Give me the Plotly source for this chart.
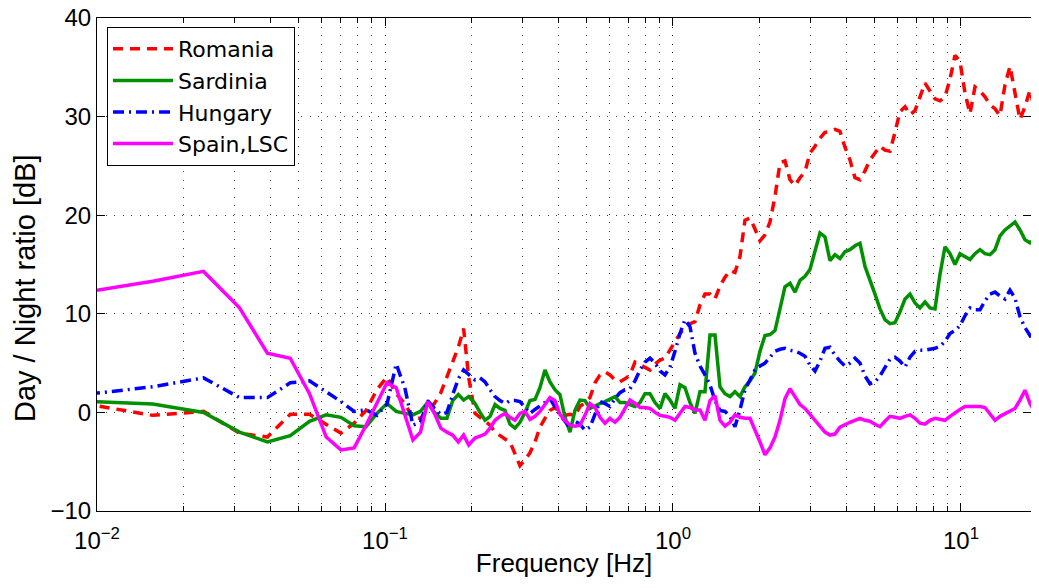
import plotly.graph_objects as go

# Frequencies [Hz]: low band on a 1/128 Hz grid, then a denser log-spaced band
FREQ_LOW = [0.0078125, 0.015625, 0.0234375, 0.03125, 0.0390625, 0.046875, 0.0546875,
            0.0625, 0.0703125, 0.078125, 0.0859375, 0.09375, 0.1015625, 0.109375,
            0.1171875, 0.125, 0.1328125, 0.140625, 0.1484375, 0.15625, 0.1640625,
            0.171875, 0.1796875, 0.1875, 0.1953125]
FREQ_HIGH = [0.2054, 0.2138, 0.2225, 0.2316, 0.2410, 0.2508, 0.2610, 0.2716, 0.2827, 0.2942,
             0.3062, 0.3187, 0.3317, 0.3452, 0.3593, 0.3739, 0.3892, 0.4050, 0.4217, 0.4388,
             0.4567, 0.4754, 0.4947, 0.5149, 0.5359, 0.5578, 0.5805, 0.6041, 0.6288, 0.6546,
             0.6813, 0.7091, 0.7380, 0.7680, 0.7993, 0.8320, 0.8660, 0.9013, 0.9380, 0.9763,
             1.0161, 1.0575, 1.1007, 1.1456, 1.1923, 1.2410, 1.2915, 1.3442, 1.3990, 1.4561,
             1.5155, 1.5773, 1.6416, 1.7085, 1.7783, 1.8508, 1.9262, 2.0048, 2.0865, 2.1716,
             2.2603, 2.3524, 2.4484, 2.5483, 2.6522, 2.7606, 2.8728, 2.9900, 3.1120, 3.2389,
             3.3711, 3.5084, 3.6517, 3.8007, 3.9557, 4.1172, 4.2850, 4.4598, 4.6416, 4.8306,
             5.0280, 5.2335, 5.4462, 5.6688, 5.8998, 6.1405, 6.3915, 6.6513, 6.9231, 7.2044,
             7.4989, 7.8054, 8.1225, 8.4545, 8.7996, 9.1586, 9.5329, 9.9197, 10.325, 10.747,
             11.184, 11.641, 12.115, 12.610, 13.125, 13.658, 14.216, 14.794, 15.399, 16.029,
             16.681, 17.362, 18.068, 18.66]
FREQ = FREQ_LOW + FREQ_HIGH

ROMANIA = [1.2, -0.3, 0.1, -2.1, -2.5, -0.2, -0.2, -1.2, -2.1, -1.1, 0.2, 2.3, 3.6, 1.9,
           0.9, -0.6, -0.6, 0.2, 0.9, 2.0, 3.6, 5.0, 6.6, 8.5, 3.5,
           -0.1, -0.5, -1.0, -1.3, -2.0, -2.4, -2.7, -3.0, -4.3, -5.4,
           -4.8, -4.1, -3.0, -1.5, -0.6, 0.2, 0.5, 0.0, -0.3, -0.2,
           -0.3, 0.6, 1.0, 1.5, 3.0, 3.8, 4.1, 3.8, 3.3, 3.1,
           3.4, 3.8, 5.1, 4.8, 4.5, 4.3, 4.9, 5.3, 5.5, 6.3,
           7.2, 8.0, 8.6, 9.0, 9.2, 10.9, 12.0, 12.0, 11.5, 12.8,
           13.7, 14.4, 14.2, 15.8, 19.5, 19.7, 18.6, 17.4, 18.0, 19.3,
           21.9, 25.3, 25.5, 23.6, 23.0, 23.8, 24.4, 26.3, 27.0, 27.8,
           28.4, 28.5, 28.7, 28.5, 26.9, 25.6, 23.8, 23.6, 24.5, 25.6,
           26.3, 27.0, 26.6, 26.5, 28.4, 30.5, 31.0, 30.2, 30.6, 32.0,
           33.4, 32.6, 31.8, 31.6, 32.0, 33.8, 36.2, 35.6, 32.4, 30.3,
           33.0, 32.6, 32.0, 31.2, 30.8, 30.1, 33.2, 35.1, 32.3, 29.7,
           31.0, 32.7, 30.5, 28.0]

SARDINIA = [1.2, 0.85, 0.0, -2.0, -3.0, -2.35, -0.9, -0.25, -0.5, -1.35, -1.45, -0.1, 0.9,
            0.1, -0.1, -0.25, 0.1, 1.0, 0.0, -0.6, -0.6, 1.2, 1.8, 1.25, 1.6,
            0.9, 0.0, -0.8, -0.4, 0.8, 0.4, 0.2, -1.2, -1.6, -1.0,
            0.0, 1.2, 1.3, 2.5, 4.3, 3.1, 2.3, 1.8, -0.5, -2.0,
            0.2, 1.25, 1.2, 0.4, 0.7, 0.9, 1.1, 1.4, 1.6, 1.0,
            1.0, 0.8, 0.6, 1.0, 1.9, 1.9, 1.0, 0.4, 1.9, 1.25,
            0.4, 2.8, 2.5, 1.0, -0.1, 2.1, 2.1, 7.85, 7.85, 2.6,
            1.9, 1.6, 2.1, 1.6, 2.6, 3.2, 4.0, 6.2, 7.8, 7.9,
            8.3, 10.5, 12.75, 13.1, 12.2, 13.4, 13.8, 14.5, 16.3, 18.2,
            17.8, 15.4, 16.0, 15.6, 16.3, 16.5, 16.9, 17.15, 14.8, 13.5,
            12.0, 10.5, 9.4, 9.0, 9.1, 10.2, 11.5, 12.0, 11.1, 10.6,
            11.2, 10.6, 10.5, 14.0, 16.8, 16.1, 15.0, 16.1, 15.8, 15.5,
            16.1, 16.5, 16.1, 16.0, 16.5, 17.9, 18.5, 18.9, 19.3, 18.5,
            17.5, 17.2, 17.6, 18.2]

HUNGARY = [1.6, 2.6, 3.5, 1.5, 1.5, 3.0, 3.2, 2.1, 1.1, 0.1, 0.25, -0.3, 0.8,
           4.9, 2.5, -1.3, -1.0, 1.2, 0.4, -0.2, 0.0, 1.8, 3.4, 4.3, 3.8,
           3.3, 3.5, 3.1, 2.3, 1.6, 1.2, 0.9, 1.2, 1.2, 1.1,
           0.5, -0.1, 0.3, 0.6, 1.0, 1.4, 0.5, -0.25, -0.9, -1.6,
           -0.9, -1.2, -1.8, -1.5, -0.2, 1.1, 0.9, 0.6, 1.4, 2.0,
           2.3, 2.4, 3.2, 4.3, 5.1, 5.5, 5.0, 4.2, 3.8, 4.6,
           6.2, 8.0, 9.4, 8.7, 6.0, 4.7, 3.8, 2.8, 1.2, 0.2,
           0.1, -0.4, -1.45, 0.25, 2.3, 3.4, 4.3, 4.7, 5.0, 5.6,
           6.2, 6.4, 6.5, 6.3, 6.2, 6.0, 5.7, 4.8, 4.2, 5.2,
           6.5, 6.6, 5.8, 5.2, 4.7, 5.0, 5.5, 5.0, 3.7, 2.9,
           3.1, 3.7, 4.5, 5.4, 5.6, 5.2, 4.6, 5.6, 6.2, 6.3,
           6.3, 6.4, 6.5, 6.7, 7.2, 8.0, 8.3, 8.8, 9.8, 10.6,
           10.4, 10.4, 11.3, 12.0, 12.2, 11.8, 11.5, 12.4, 11.6, 9.7,
           8.6, 7.8, 6.8, 6.6]

SPAIN_LSC = [11.9, 13.3, 14.3, 10.6, 6.0, 5.5, 1.9, -2.5, -3.8, -3.6, -1.3, 0.95, 3.0,
             2.5, -0.1, -2.8, -2.0, 1.1, -0.1, -1.6, -2.0, -2.3, -3.0, -2.3, -3.3,
             -2.6, -2.4, -2.2, -1.6, -0.8, -0.4, -0.1, -0.5, -0.8, -0.1,
             0.1, -0.7, -0.4, 0.1, 0.8, 1.5, 1.2, -0.2, -0.8, -1.3,
             -1.4, -1.3, -0.3, 0.9, 0.5, -0.5, -1.1, -0.6, -1.0, -0.5,
             0.4, 1.25, 0.9, 0.5, 0.5, 0.4, 0.0, -0.3, -0.4, -0.5,
             -0.8, -0.1, 0.6, 0.5, 0.25, 0.25, -0.8, 1.2, 1.7, -0.8,
             -1.4, -1.0, -0.25, -0.5, -0.6, -0.6, -1.7, -3.0, -4.3, -3.6,
             -2.5, -0.8, 1.4, 2.4, 1.6, 0.8, 0.4, -0.2, -0.9, -1.5,
             -2.0, -2.3, -2.2, -1.5, -1.2, -1.0, -0.8, -0.6, -0.8, -0.9,
             -1.2, -1.45, -0.9, -0.4, -0.5, -0.6, -0.4, -0.25, -0.6, -1.1,
             -1.2, -0.8, -0.6, -0.7, -0.8, -0.4, 0.0, 0.3, 0.6, 0.6,
             0.6, 0.6, 0.5, -0.2, -0.8, -0.4, -0.1, 0.1, 0.4, 1.25,
             2.25, 0.9, 0.1, 1.1]

SERIES = [
    ("Romania", ROMANIA, "#ff0000", "10px,7px"),
    ("Sardinia", SARDINIA, "#009000", "solid"),
    ("Hungary", HUNGARY, "#0000ff", "11px,5px,2px,5px"),
    ("Spain,LSC", SPAIN_LSC, "#ff00ff", "solid"),
]

X_TICKVALS = [0.01, 0.1, 1, 10]
X_TICKTEXT = ["10<sup>\u22122</sup>", "10<sup>\u22121</sup>", "10<sup>0</sup>", "10<sup>1</sup>"]
Y_TICKVALS = [-10, 0, 10, 20, 30, 40]
Y_TICKTEXT = ["\u221210", "0", "10", "20", "30", "40"]
X_TITLE = "Frequency [Hz]"
Y_TITLE = "Day / Night ratio [dB]"

fig = go.Figure()
for name, vals, color, dash in SERIES:
    fig.add_trace(go.Scatter(x=FREQ, y=vals, mode="lines", name=name,
                             line=dict(color=color, width=3.5, dash=dash)))

FONT = "Liberation Sans, Arial, sans-serif"
GRIDCOL = "rgba(0,0,0,0.75)"
GRIDDASH = "1px,7.5px"

# page body has an 8px margin: size the figure so the page fits the window exactly
fig.update_layout(
    width=1023, height=572,
    margin=dict(l=89, r=0, t=10, b=69, autoexpand=False),
    paper_bgcolor="white", plot_bgcolor="white",
    font=dict(family=FONT, size=22, color="black"),
    showlegend=True,
    legend=dict(x=0.0107, y=0.9817, xanchor="left", yanchor="top",
                bgcolor="white", bordercolor="black", borderwidth=1,
                font=dict(size=22, family="DejaVu Sans, Liberation Sans, sans-serif"),
                itemwidth=60, tracegroupgap=0),
    annotations=[dict(text=Y_TITLE, xref="paper", yref="paper", x=-0.0771, y=0.4523,
                      textangle=-90, showarrow=False, font=dict(size=29),
                      xanchor="center", yanchor="middle")],
)
fig.update_xaxes(
    type="log", range=[-2, 1.2431], automargin=False,
    tickvals=X_TICKVALS, ticktext=X_TICKTEXT, ticklabelstandoff=8,
    ticks="inside", ticklen=8, tickcolor="black",
    showline=True, linecolor="black", linewidth=1, mirror="ticks",
    showgrid=True, gridcolor=GRIDCOL, griddash=GRIDDASH, gridwidth=1,
    minor=dict(ticks="inside", ticklen=5, tickcolor="black", dtick="D1",
               showgrid=True, gridcolor=GRIDCOL, griddash=GRIDDASH, gridwidth=1),
    zeroline=False, ticklabeloverflow="allow",
    title=dict(text=X_TITLE, font=dict(size=26), standoff=1),
    tickfont=dict(size=24),
)
fig.update_yaxes(
    range=[-10, 40], automargin=False,
    tickvals=Y_TICKVALS, ticktext=Y_TICKTEXT,
    ticks="inside", ticklen=8, tickcolor="black",
    showline=True, linecolor="black", linewidth=1, mirror="ticks",
    showgrid=True, gridcolor=GRIDCOL, griddash=GRIDDASH, gridwidth=1,
    zeroline=False, ticklabeloverflow="allow",
    tickfont=dict(size=24),
)

fig.write_html("out.html")
